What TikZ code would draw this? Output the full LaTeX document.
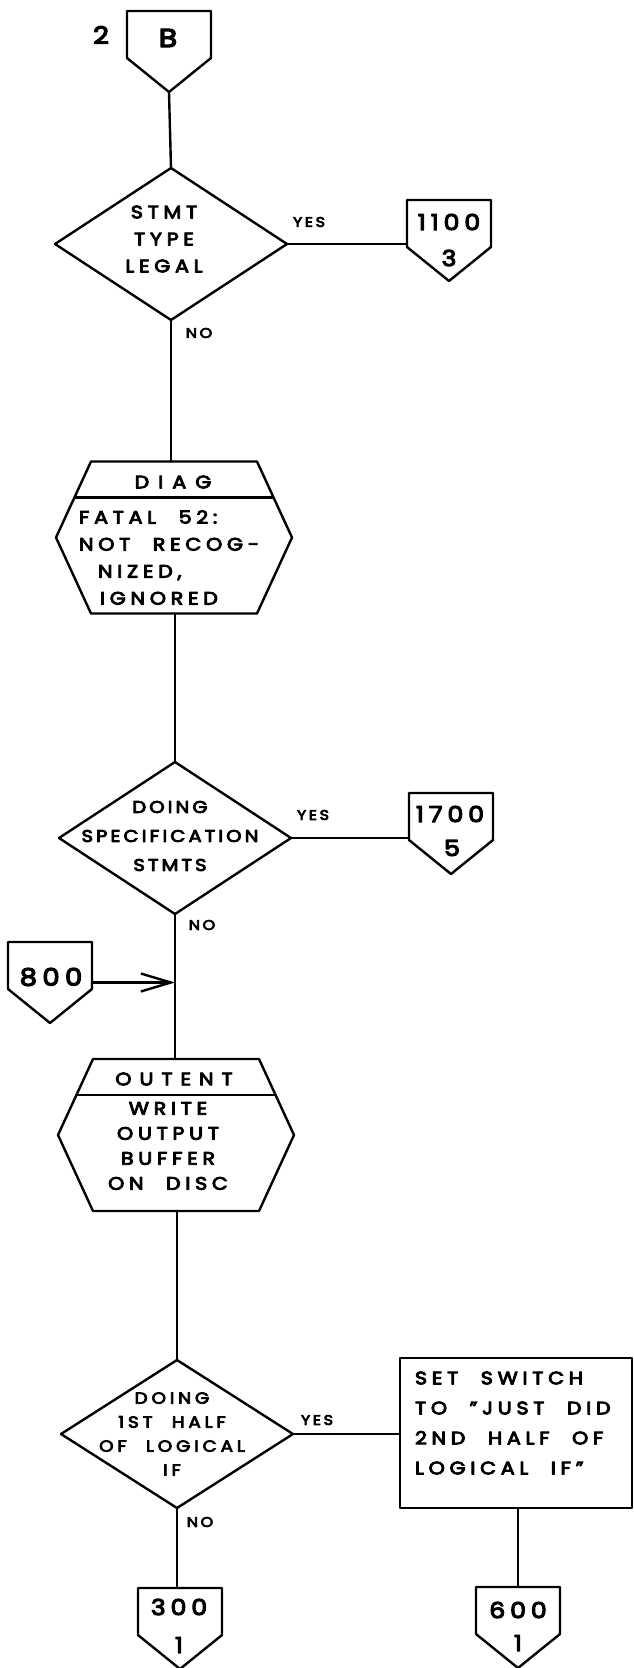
\documentclass[tikz,border=0pt]{standalone}
\usepackage{fontspec}
\setmainfont{Poppins}[FakeStretch=1.15, FakeBold=5, LetterSpace=26, WordSpace=2.2]
\usetikzlibrary{shapes.geometric,arrows.meta}

% lettering: size, line skip, letter spacing
\newcommand{\handfont}[3]{\fontsize{#1}{#2}\selectfont\addfontfeature{LetterSpace=#3}}

% off-page connector: a box with a pointed bottom
\newcommand{\drawoffpage}[3]{% name, x, top y
  \node[pgbody] (#1) at (#2,#3) {};
  \draw (#1.north west) -- (#1.north east) -- (#1.south east)
        -- ([yshift=-34pt]#1.south) coordinate (#1-tip)
        -- (#1.south west) -- cycle;}

% predefined process: hexagon with a header strip
\newcommand{\drawhex}[3]{% name, x, centre y
  \node[hexbody] (#1) at (#2,#3) {};
  \draw (#1.west) -- ([xshift=35pt]#1.north west) -- ([xshift=-35pt]#1.north east)
        -- (#1.east) -- ([xshift=-35pt]#1.south east) -- ([xshift=35pt]#1.south west) -- cycle;
  \draw ([xshift=19pt,yshift=-36pt]#1.north west) -- ([xshift=-19pt,yshift=-36pt]#1.north east);}

\begin{document}
\begin{tikzpicture}[x=1pt,y=-1pt,
  line width=2.4pt, line join=round, line cap=round,
  every node/.style={inner sep=0pt, outer sep=0pt},
  lbl/.style={font=\handfont{18}{27}{26}, align=center},
  num/.style={font=\handfont{22}{24}{22}},
  yn/.style={font=\handfont{14}{15}{18}},
  decision/.style={draw, diamond, minimum width=232pt, minimum height=152pt},
  pgbody/.style={minimum width=84pt, minimum height=47pt, anchor=north},
  hexbody/.style={minimum width=236pt, minimum height=152pt},
  procbox/.style={draw, rectangle, minimum width=232pt, minimum height=150pt},
  entry/.style={-{Straight Barb[length=30pt,width=18pt]}},
]
\useasboundingbox (0,0) rectangle (634,1668);

% entry connector
\drawoffpage{cB}{169}{11}
\node[num, font=\handfont{26}{26}{0}] (cB-t) at (168,38) {B};
\node[num, font=\handfont{24}{24}{0}] (pg2) at (101,35) {2};

% statement type test
\node[decision] (d1) at (171,244) {};
\node[lbl] (d1-t) at (164,239) {STMT\\TYPE\\LEGAL};
\draw (cB-tip) -- (d1.north);
\drawoffpage{c1100}{449}{200}
\node[num] (c1100-t) at (449,222) {1100};
\node[num] (c1100-p) at (449,258) {3};
\draw (d1.east) -- (d1.east -| c1100.west);
\node[yn] (y1) at (309,222) {YES};
\node[yn] (n1) at (199,333) {NO};

% diagnostic
\drawhex{diag}{174}{537.5}
\node[lbl, font=\handfont{18}{27}{50}] (diag-h) at (173,482) {DIAG};
\node[lbl, align=left, anchor=west] (diag-b) at (79,557.5)
  {FATAL 52:\\NOT RECOG-\\\hspace*{19pt}NIZED,\\\hspace*{21pt}IGNORED};
\draw (d1.south) -- (d1.south |- diag.north);

% specification statements test
\node[decision] (d2) at (175,838) {};
\node[lbl, font=\handfont{17}{29}{18}] (d2-t) at (170,836) {DOING\\SPECIFICATION\\STMTS};
\draw (diag.south -| d2.north) -- (d2.north);
\drawoffpage{c1700}{451}{793}
\node[num] (c1700-t) at (450,814) {1700};
\node[num] (c1700-p) at (452,848) {5};
\draw (d2.east) -- (d2.east -| c1700.west);
\node[yn] (y2) at (313,815) {YES};
\node[yn] (n2) at (202,925) {NO};

% re-entry from 800
\drawoffpage{c800}{50}{942}
\node[num, font=\handfont{24}{24}{22}] (c800-t) at (51,977) {800};
\coordinate (a800) at ([yshift=-17pt]c800.east);
\draw[entry] (a800) -- (a800 -| d2.south);

% output
\drawhex{outent}{176}{1135}
\node[lbl, font=\handfont{18}{27}{44}] (outent-h) at (174,1079) {OUTENT};
\node[lbl, font=\handfont{18}{25}{26}] (outent-b) at (168,1146) {WRITE\\OUTPUT\\BUFFER\\ON DISC};
\draw (d2.south) -- (d2.south |- outent.north);

% logical IF test
\node[decision, minimum height=148pt] (d3) at (177,1434) {};
\node[lbl, font=\handfont{16}{24}{24}] (d3-t) at (172,1434) {DOING\\1ST HALF\\OF LOGICAL\\IF};
\draw (outent.south -| d3.north) -- (d3.north);
\node[yn] (y3) at (317,1420) {YES};
\node[yn] (n3) at (200,1522) {NO};

% switch setting
\node[procbox] (sw) at (516,1433) {};
\node[lbl, align=left, anchor=west, font=\handfont{18}{30}{26}] (sw-t) at (415,1423)
  {SET SWITCH\\TO "JUST DID\\2ND HALF OF\\LOGICAL IF"};
\draw (d3.east) -- (d3.east -| sw.west);

% exits
\drawoffpage{c300}{180}{1588}
\node[num] (c300-t) at (179,1607) {300};
\node[num] (c300-p) at (179,1645) {1};
\draw (d3.south) -- (d3.south |- c300.north);

\drawoffpage{c600}{518}{1587}
\node[num] (c600-t) at (518,1610) {600};
\node[num] (c600-p) at (518,1643) {1};
\draw (c600.north |- sw.south) -- (c600.north);
\end{tikzpicture}
\end{document}
